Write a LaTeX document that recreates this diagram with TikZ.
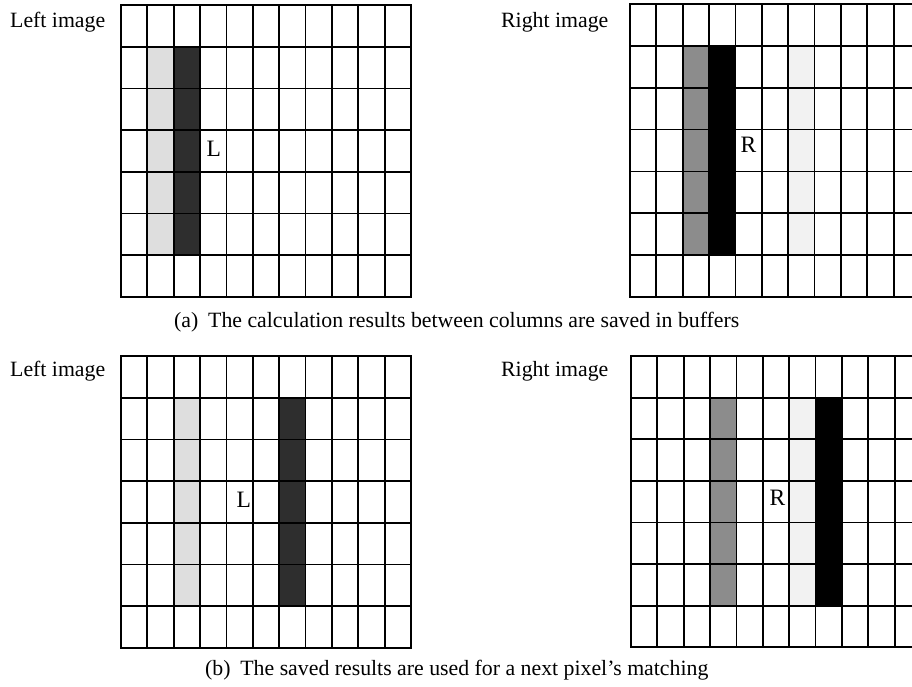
\documentclass[tikz,border=0pt]{standalone}
\usepackage{fontspec}
\setmainfont{Liberation Serif}
\newcommand\pixgrid{%
  \foreach \i in {0,...,11} {\draw[gridline] (\i,0) -- (\i,7);}
  \foreach \j in {0,...,7} {\draw[gridline] (0,\j) -- (11,\j);}
}
\begin{document}
\begin{tikzpicture}[x=1pt,y=-1pt,
  lbl/.style={anchor=base west,inner sep=0pt,font=\fontsize{21.8}{26}\selectfont},
  pix/.style={anchor=base west,inner sep=0pt,font=\fontsize{23.5}{27}\selectfont},
  gridline/.style={line width=1.8pt,black,line cap=rect},
  lightfill/.style={fill=black!13},
  verylightfill/.style={fill=black!5},
  midfill/.style={fill=black!45},
  darkfill/.style={fill=black!82},
  blackfill/.style={fill=black}]
\useasboundingbox (0,0) rectangle (912,686);
\clip (0,0) rectangle (912,686);
\fill[white] (0,0) rectangle (912,686);

% ---- (a) left grid
\begin{scope}[shift={(121,5)},x=26.36pt,y=-41.7pt]
  \fill[lightfill] (1,1) rectangle (2,6);
  \fill[darkfill] (2,1) rectangle (3,6);
  \pixgrid
\end{scope}
% ---- (a) right grid
\begin{scope}[shift={(630,4)},x=26.36pt,y=-41.85pt]
  \fill[midfill] (2,1) rectangle (3,6);
  \fill[blackfill] (3,1) rectangle (4,6);
  \fill[verylightfill] (6,1) rectangle (7,6);
  \pixgrid
\end{scope}
% ---- (b) left grid
\begin{scope}[shift={(121,356)},x=26.36pt,y=-41.7pt]
  \fill[lightfill] (2,1) rectangle (3,6);
  \fill[darkfill] (6,1) rectangle (7,6);
  \pixgrid
\end{scope}
% ---- (b) right grid
\begin{scope}[shift={(631,356)},x=26.36pt,y=-41.6pt]
  \fill[midfill] (3,1) rectangle (4,6);
  \fill[verylightfill] (6,1) rectangle (7,6);
  \fill[blackfill] (7,1) rectangle (8,6);
  \pixgrid
\end{scope}

% labels
\node[lbl] (leftA) at (10,27) {Left image};
\node[lbl] (rightA) at (501,27) {Right image};
\node[lbl] (leftB) at (10,376) {Left image};
\node[lbl] (rightB) at (501,376) {Right image};

\node[pix] (LA) at (206.5,156) {L};
\node[pix] (RA) at (740.5,152) {R};
\node[pix] (LB) at (236.5,507) {L};
\node[pix] (RB) at (769.5,505) {R};

\node[lbl] (capA) at (174,327) {(a)\hspace{0.45em}The calculation results between columns are saved in buffers};
\node[lbl] (capB) at (205,675) {(b)\hspace{0.45em}The saved results are used for a next pixel’s matching};
\end{tikzpicture}
\end{document}
